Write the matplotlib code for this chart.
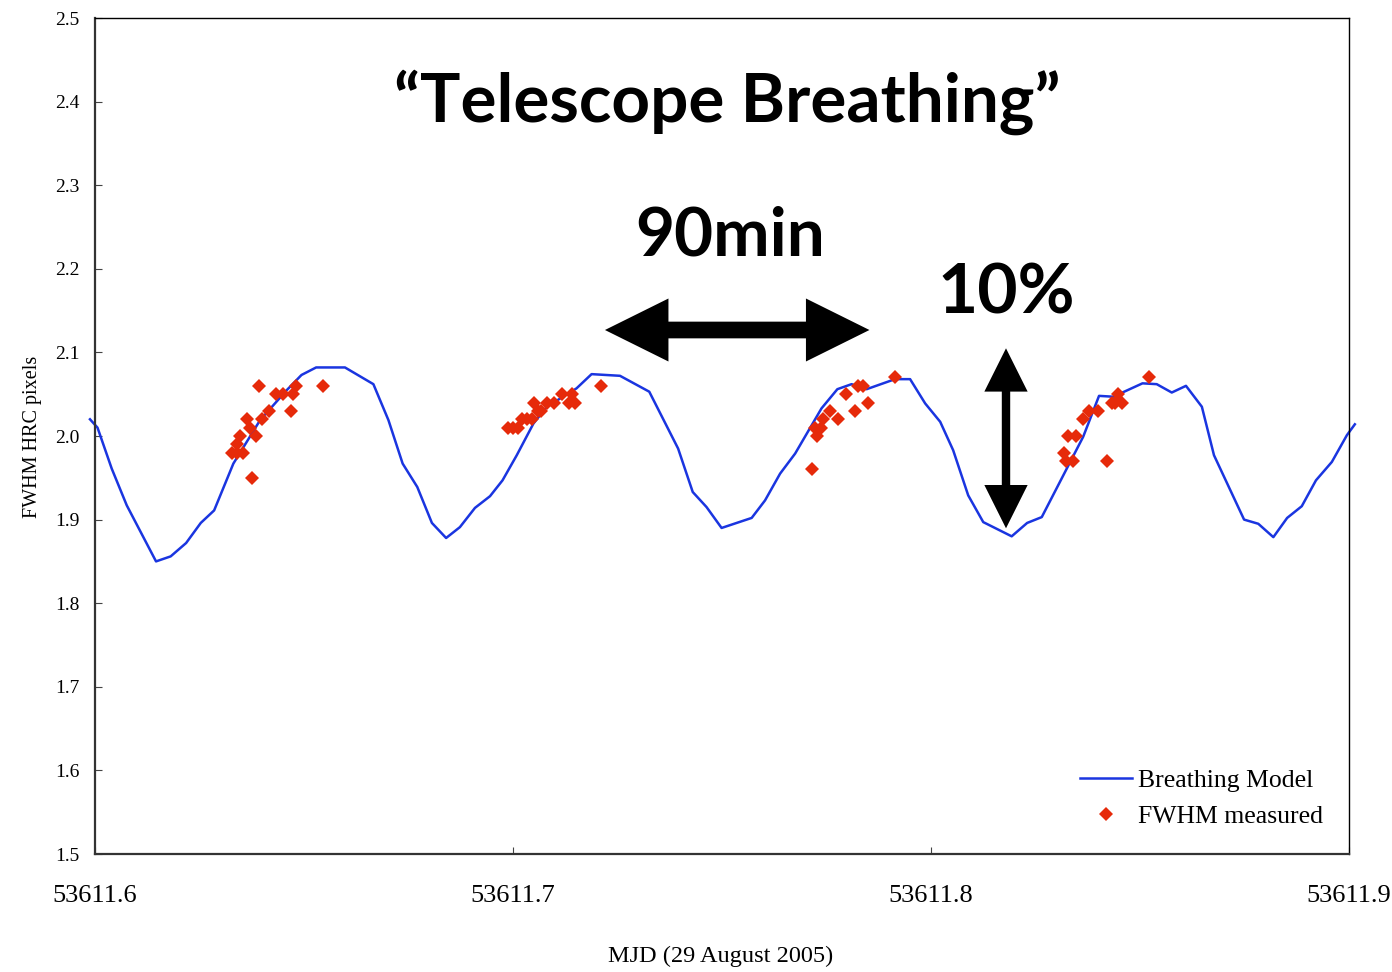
import matplotlib.pyplot as plt
from matplotlib.patches import Polygon
import numpy as np

# breathing model (MJD - 53611, FWHM)
model_t = [0.5988, 0.6006, 0.6040, 0.6076, 0.6146, 0.6181, 0.6218, 0.6253, 0.6285, 0.6331,
           0.6395, 0.6459, 0.6494, 0.6529, 0.6598, 0.6666, 0.6702, 0.6736, 0.6771, 0.6806,
           0.6840, 0.6873, 0.6909, 0.6945, 0.6975, 0.7009, 0.7049, 0.7081, 0.7152, 0.7188,
           0.7256, 0.7326, 0.7395, 0.7430, 0.7463, 0.7499, 0.7571, 0.7603, 0.7639, 0.7675,
           0.7703, 0.7738, 0.7776, 0.7810, 0.7846, 0.7914, 0.7950, 0.7986, 0.8022, 0.8053,
           0.8089, 0.8125, 0.8193, 0.8230, 0.8265, 0.8364, 0.8402, 0.8436, 0.8506, 0.8540,
           0.8576, 0.8610, 0.8648, 0.8677, 0.8749, 0.8783, 0.8819, 0.8852, 0.8887, 0.8921,
           0.8959, 0.8995, 0.9014]
model_fwhm = [2.020, 2.010, 1.961, 1.917, 1.850, 1.856, 1.872, 1.896, 1.911, 1.967,
              2.019, 2.055, 2.073, 2.082, 2.082, 2.062, 2.019, 1.967, 1.939, 1.896,
              1.878, 1.891, 1.914, 1.928, 1.947, 1.977, 2.015, 2.035, 2.057, 2.074,
              2.072, 2.053, 1.985, 1.933, 1.915, 1.890, 1.902, 1.923, 1.955, 1.979,
              2.003, 2.033, 2.056, 2.062, 2.056, 2.068, 2.068, 2.039, 2.017, 1.983,
              1.929, 1.897, 1.880, 1.896, 1.903, 1.999, 2.048, 2.047, 2.063, 2.062,
              2.052, 2.060, 2.035, 1.977, 1.900, 1.895, 1.879, 1.902, 1.916, 1.947,
              1.969, 2.001, 2.014]

# measured FWHM
meas_t = [0.6392, 0.6481, 0.6546, 0.6433, 0.6450, 0.6474, 0.6416, 0.6468, 0.6363, 0.6399,
          0.6371, 0.6347, 0.6384, 0.6339, 0.6327, 0.6339, 0.6355, 0.6376,
          0.7211, 0.7140, 0.7117, 0.7081, 0.7099, 0.7051, 0.7148, 0.7134, 0.7061, 0.7067,
          0.7021, 0.7033, 0.7045, 0.6988, 0.7000, 0.7012,
          0.7914, 0.7826, 0.7838, 0.7797, 0.7849, 0.7758, 0.7817, 0.7742, 0.7777, 0.7722,
          0.7738, 0.7727, 0.7715,
          0.8522, 0.8448, 0.8432, 0.8440, 0.8456, 0.8379, 0.8400, 0.8363, 0.8328, 0.8347,
          0.8318, 0.8324, 0.8339, 0.8420]
meas_fwhm = [2.06, 2.06, 2.06, 2.05, 2.05, 2.05, 2.03, 2.03, 2.02, 2.02,
             2.01, 2.00, 2.00, 1.99, 1.98, 1.98, 1.98, 1.95,
             2.06, 2.05, 2.05, 2.04, 2.04, 2.04, 2.04, 2.04, 2.03, 2.03,
             2.02, 2.02, 2.02, 2.01, 2.01, 2.01,
             2.07, 2.06, 2.06, 2.05, 2.04, 2.03, 2.03, 2.02, 2.02, 2.01,
             2.01, 2.00, 1.96,
             2.07, 2.05, 2.04, 2.04, 2.04, 2.03, 2.03, 2.02, 2.00, 2.00,
             1.98, 1.97, 1.97, 1.97]

mjd0 = 53611
xticks = [53611.6, 53611.7, 53611.8, 53611.9]
yticks = np.round(np.arange(1.5, 2.51, 0.1), 1)

serif = ['Liberation Serif', 'DejaVu Serif']
sans = ['Lato', 'DejaVu Sans']


def double_arrow(cx, cy, half, shaft, head_w, head_l, vertical=False):
    # outline of a two-headed arrow, in inches, centred on (cx, cy)
    pts = [(-half, 0), (-half + head_l, head_w / 2), (-half + head_l, shaft / 2),
           (half - head_l, shaft / 2), (half - head_l, head_w / 2), (half, 0),
           (half - head_l, -head_w / 2), (half - head_l, -shaft / 2),
           (-half + head_l, -shaft / 2), (-half + head_l, -head_w / 2)]
    if vertical:
        pts = [(cx + b, cy + a) for a, b in pts]
    else:
        pts = [(cx + a, cy + b) for a, b in pts]
    return Polygon(pts, closed=True, color='black', lw=0, transform=fig.dpi_scale_trans)


fig = plt.figure(figsize=(13.92, 9.72), dpi=100)
ax = fig.add_axes([95/1392, 118/972, 1254/1392, 836/972])

ax.plot(mjd0 + np.array(model_t), model_fwhm, color='#1a35e0', lw=1.8,
        label='Breathing Model', clip_on=False, zorder=2)
ax.plot(mjd0 + np.array(meas_t), meas_fwhm, ls='none', marker='D', ms=7.3, mew=0,
        color='#e62a0a', label='FWHM measured', zorder=3)

ax.set_xlim(53611.6, 53611.9)
ax.set_ylim(1.5, 2.5)
ax.set_xticks(xticks)
ax.set_xticklabels([f'{v:.1f}' for v in xticks], fontfamily=serif, fontsize=19)
ax.set_yticks(yticks)
ax.set_yticklabels([f'{v:.1f}' for v in yticks], fontfamily=serif, fontsize=14)
ax.tick_params(axis='both', direction='in', length=5, width=0.8, color='#444444')
ax.tick_params(axis='x', pad=22)
ax.tick_params(axis='y', pad=11)
for s in ['top', 'right']:
    ax.spines[s].set_linewidth(1.0)
for s in ['left', 'bottom']:
    ax.spines[s].set_linewidth(1.6)
    ax.spines[s].set_color('#333333')

fig.text(33/1392, 1 - 437/972, 'FWHM HRC pixels', rotation=90, ha='center', va='center',
         fontfamily=serif, fontsize=14.5)
fig.text(721/1392, 1 - 956/972, 'MJD (29 August 2005)', ha='center', va='center',
         fontfamily=serif, fontsize=17.5)

leg = ax.legend(loc='lower right', frameon=False, prop={'family': serif, 'size': 18.5},
                handlelength=2.0, handletextpad=0.25, labelspacing=0.5,
                bbox_to_anchor=(1.0, 0.0), borderaxespad=0.6)

# annotations
fig.text(727/1392, 1 - 122/972, '\u201cTelescope Breathing\u201d', ha='center', va='baseline',
         fontfamily=sans, fontweight='bold', fontsize=48.5)
fig.text(730/1392, 1 - 255/972, '90min', ha='center', va='baseline',
         fontfamily=sans, fontweight='bold', fontsize=48.5)
fig.text(1006/1392, 1 - 313/972, '10%', ha='center', va='baseline',
         fontfamily=sans, fontweight='bold', fontsize=50)

# double arrows (inches)
fig.add_artist(double_arrow(7.372, (972 - 330) / 100, 1.3225, 0.167, 0.63, 0.635))
fig.add_artist(double_arrow(10.06, (972 - 438.3) / 100, 0.90, 0.084, 0.433, 0.433, vertical=True))

fig.savefig('out.png', dpi=100)
